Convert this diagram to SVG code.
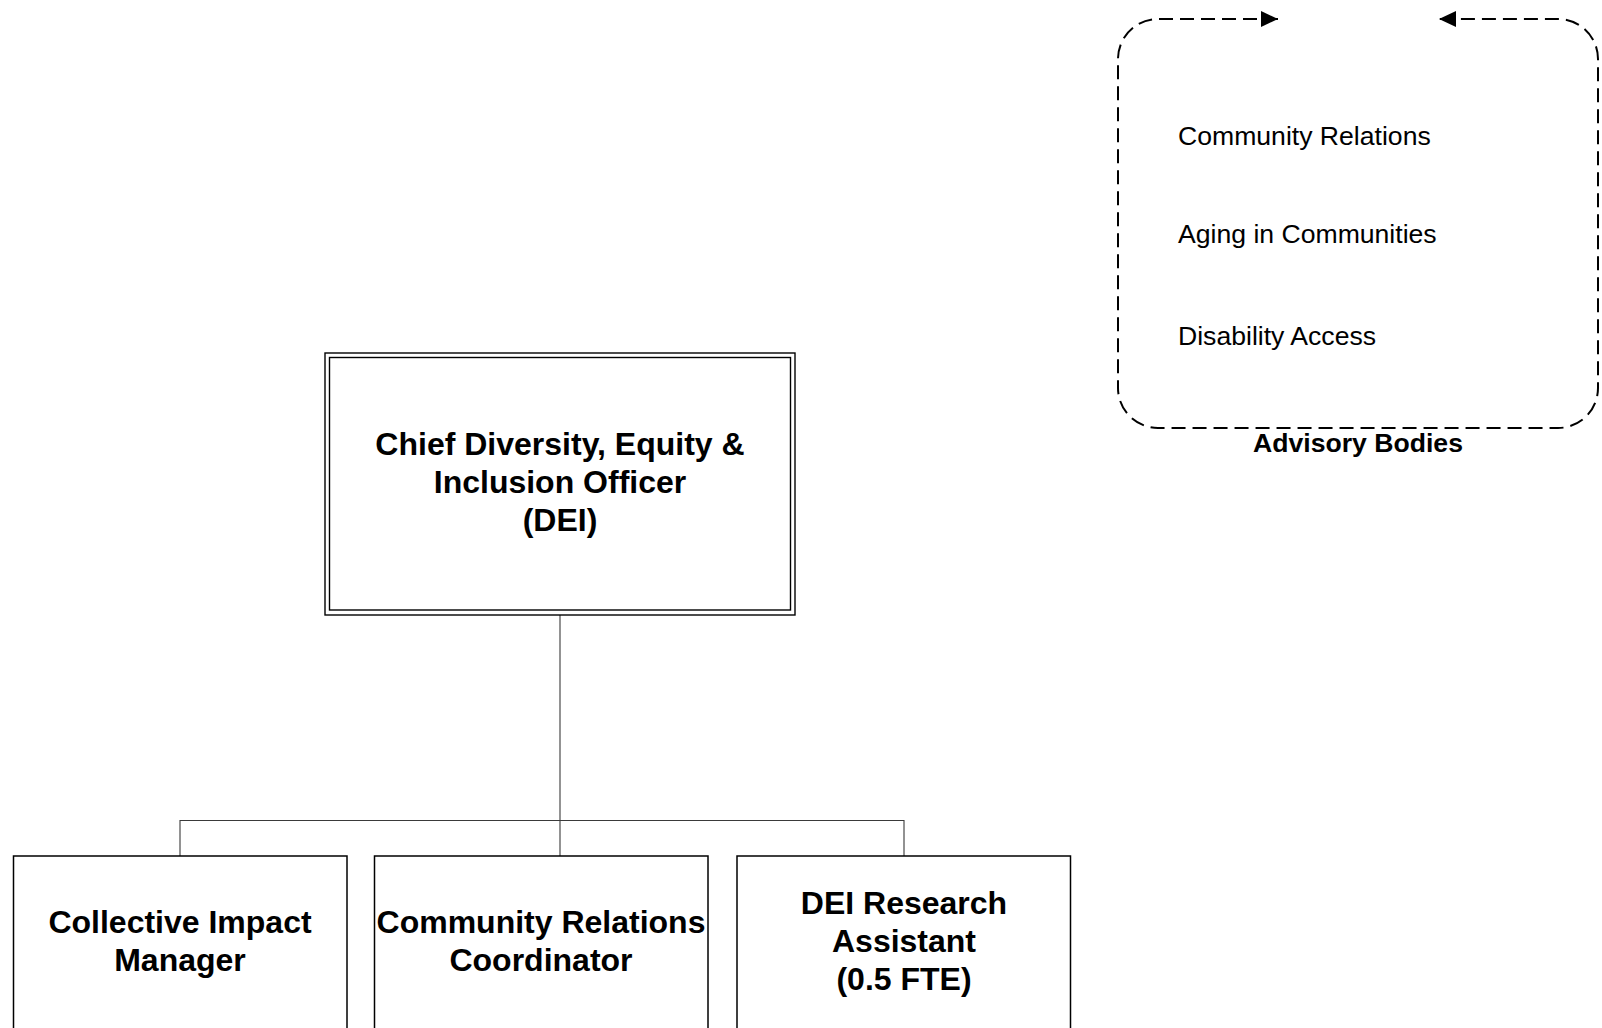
<svg xmlns="http://www.w3.org/2000/svg" width="1602" height="1028" viewBox="0 0 1602 1028">
<style>
.bg{fill:#ffffff}
.box{fill:#ffffff;stroke:#000000;stroke-width:1.5}
.dbl{fill:none;stroke:#000000;stroke-width:1.4}
.conn{fill:none;stroke:#3a3a3a;stroke-width:1.1}
.dash{fill:none;stroke:#000000;stroke-width:2;stroke-dasharray:14 7}
.t{font-family:"Liberation Sans",Arial,sans-serif;font-weight:bold;font-size:32px;fill:#000000;text-anchor:middle}
.s{font-family:"Liberation Sans",Arial,sans-serif;font-size:26.6px;fill:#000000}
.sb{font-family:"Liberation Sans",Arial,sans-serif;font-weight:bold;font-size:26.6px;fill:#000000;text-anchor:middle}
</style>
<defs>
<marker id="arrow" markerUnits="userSpaceOnUse" markerWidth="18" markerHeight="17" refX="17" refY="8" orient="auto-start-reverse" viewBox="0 0 18 17">
<path d="M0,0 L17,8 L0,16 z" fill="#000000"/>
</marker>
</defs>
<rect class="bg" x="0" y="0" width="1602" height="1028"/>
<g id="connectors">
<line class="conn" x1="560" y1="615" x2="560" y2="856"/>
<polyline class="conn" points="180,856 180,820.5 904,820.5 904,856"/>
</g>
<g id="node-chief">
<rect class="dbl" x="325" y="353" width="470" height="262"/>
<rect class="dbl" x="329.5" y="357.5" width="461" height="252.5"/>
<text class="t" x="560" y="455">Chief Diversity, Equity &amp;</text>
<text class="t" x="560" y="493">Inclusion Officer</text>
<text class="t" x="560" y="531">(DEI)</text>
</g>
<g id="node-collective">
<rect class="box" x="13.5" y="856" width="333.5" height="190"/>
<text class="t" x="180" y="933">Collective Impact</text>
<text class="t" x="180" y="971">Manager</text>
</g>
<g id="node-community">
<rect class="box" x="374.5" y="856" width="333.5" height="190"/>
<text class="t" x="541" y="933">Community Relations</text>
<text class="t" x="541" y="971">Coordinator</text>
</g>
<g id="node-research">
<rect class="box" x="737" y="856" width="333.5" height="190"/>
<text class="t" x="904" y="914">DEI Research</text>
<text class="t" x="904" y="952">Assistant</text>
<text class="t" x="904" y="990">(0.5 FTE)</text>
</g>
<g id="node-advisory">
<path class="dash" d="M1278,19 L1158,19 A40,40 0 0 0 1118,59 L1118,388 A40,40 0 0 0 1158,428 L1558,428 A40,40 0 0 0 1598,388 L1598,59 A40,40 0 0 0 1558,19 L1439,19" marker-start="url(#arrow)" marker-end="url(#arrow)"/>
<text class="s" x="1178" y="145">Community Relations</text>
<text class="s" x="1178" y="243">Aging in Communities</text>
<text class="s" x="1178" y="345">Disability Access</text>
<text class="sb" x="1358" y="452">Advisory Bodies</text>
</g>
</svg>
